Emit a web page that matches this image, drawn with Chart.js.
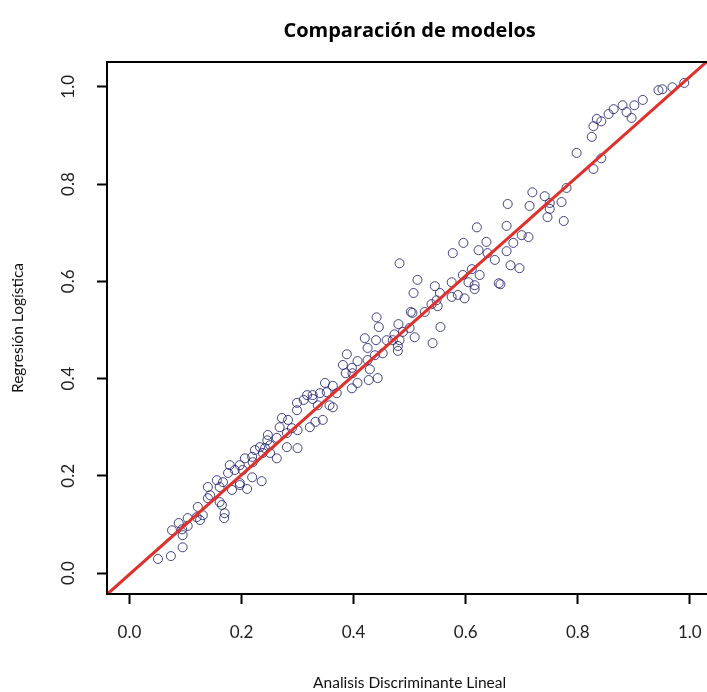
<!DOCTYPE html>
<html>
<head>
<meta charset="utf-8">
<title>Comparación de modelos</title>
<script src="https://cdn.jsdelivr.net/npm/chart.js@4.4.1/dist/chart.umd.min.js"></script>
<style>
  html, body { margin: 0; padding: 0; background: #fff; overflow: hidden; }
  canvas { display: block; }
</style>
</head>
<body>
<canvas id="model-chart" width="720" height="692"></canvas>
<script>
// ── Probabilidades estimadas por cada modelo (una por observación) ──
const ldaProb = [
  0.990, 0.969, 0.951, 0.944, 0.916, 0.901, 0.880, 0.864, 0.855, 0.887, 0.896, 0.842, 0.834, 0.828, 0.825, 0.798, 0.842, 0.828,
  0.780, 0.719, 0.741, 0.750, 0.771, 0.675, 0.714, 0.750, 0.746, 0.775, 0.673, 0.712, 0.700, 0.685, 0.673, 0.680, 0.696, 0.662,
  0.620, 0.596, 0.637, 0.577, 0.623, 0.639, 0.652, 0.482, 0.611, 0.595, 0.625, 0.605, 0.616, 0.616, 0.575, 0.659, 0.514, 0.507,
  0.545, 0.554, 0.575, 0.586, 0.598, 0.548, 0.539, 0.550, 0.502, 0.505, 0.527, 0.480, 0.500, 0.555, 0.473, 0.488, 0.509, 0.470,
  0.482, 0.479, 0.541, 0.479,
  0.441, 0.445, 0.420, 0.440, 0.459, 0.425, 0.438, 0.452, 0.388, 0.407, 0.425, 0.381, 0.397, 0.429, 0.386, 0.398, 0.407, 0.427,
  0.443, 0.397, 0.349, 0.363, 0.352, 0.370, 0.340, 0.317, 0.327, 0.311, 0.327, 0.336, 0.357, 0.363,
  0.299, 0.345, 0.322, 0.332, 0.299, 0.272, 0.283, 0.268, 0.290, 0.300, 0.281, 0.247, 0.263, 0.281, 0.300, 0.246, 0.233, 0.242,
  0.251, 0.224, 0.238, 0.251, 0.263, 0.206, 0.219,
  0.220, 0.179, 0.197, 0.188, 0.202, 0.176, 0.219, 0.236, 0.156, 0.167, 0.197, 0.140, 0.161, 0.183, 0.210, 0.197, 0.144, 0.161,
  0.140, 0.165, 0.122, 0.131, 0.120, 0.170, 0.169, 0.104, 0.126, 0.088, 0.104, 0.076, 0.094, 0.095, 0.095, 0.074, 0.051
];
const rlProb = [
  1.008, 0.999, 0.995, 0.993, 0.973, 0.962, 0.962, 0.954, 0.944, 0.948, 0.936, 0.929, 0.934, 0.919, 0.897, 0.864, 0.853, 0.831,
  0.792, 0.783, 0.775, 0.761, 0.763, 0.759, 0.755, 0.749, 0.732, 0.724, 0.714, 0.691, 0.695, 0.679, 0.662, 0.633, 0.627, 0.594,
  0.711, 0.679, 0.681, 0.658, 0.664, 0.658, 0.644, 0.637, 0.625, 0.613, 0.613, 0.598, 0.592, 0.584, 0.598, 0.596, 0.603, 0.576,
  0.590, 0.576, 0.568, 0.572, 0.565, 0.561, 0.553, 0.549, 0.537, 0.535, 0.537, 0.512, 0.504, 0.506, 0.491, 0.496, 0.485, 0.479,
  0.479, 0.467, 0.473, 0.457,
  0.526, 0.506, 0.483, 0.479, 0.479, 0.463, 0.448, 0.452, 0.450, 0.436, 0.438, 0.428, 0.422, 0.419, 0.411, 0.411, 0.391, 0.397,
  0.401, 0.380, 0.391, 0.385, 0.372, 0.370, 0.370, 0.366, 0.366, 0.356, 0.358, 0.345, 0.345, 0.341,
  0.350, 0.315, 0.300, 0.311, 0.335, 0.319, 0.315, 0.300, 0.298, 0.294, 0.288, 0.284, 0.278, 0.259, 0.257, 0.273, 0.259, 0.257,
  0.263, 0.253, 0.247, 0.247, 0.236, 0.236, 0.239,
  0.228, 0.222, 0.222, 0.212, 0.212, 0.206, 0.197, 0.189, 0.191, 0.187, 0.185, 0.177, 0.177, 0.171, 0.173, 0.181, 0.160, 0.146,
  0.154, 0.140, 0.136, 0.119, 0.115, 0.123, 0.113, 0.113, 0.109, 0.103, 0.097, 0.088, 0.090, 0.078, 0.053, 0.035, 0.029
];

// ── Recta de ajuste (extremos) ──
const fitX = [-0.05, 1.05];
const fitY = [-0.054, 1.072];

// ── Marcas de los ejes ──
const xTickValues = [0.0, 0.2, 0.4, 0.6, 0.8, 1.0];
const yTickValues = [0.0, 0.2, 0.4, 0.6, 0.8, 1.0];

const TEXT_FONT  = 'Lato, "Open Sans", "DejaVu Sans", sans-serif';
const TITLE_FONT = '"Open Sans", Lato, "DejaVu Sans", sans-serif';

// ── Caja alrededor del área de dibujo ──
const frameBox = {
  id: 'frameBox',
  afterDraw(chart) {
    const a = chart.chartArea;
    const ctx = chart.ctx;
    ctx.save();
    ctx.strokeStyle = '#000';
    ctx.lineWidth = 2;
    ctx.strokeRect(a.left, a.top, a.right - a.left, a.bottom - a.top);
    ctx.restore();
  }
};

const points = ldaProb.map(function(x, i) { return { x: x, y: rlProb[i] }; });
const fitLine = fitX.map(function(x, i) { return { x: x, y: fitY[i] }; });

new Chart(document.getElementById('model-chart').getContext('2d'), {
  type: 'scatter',
  data: {
    datasets: [
      {
        type: 'line',
        data: fitLine,
        borderColor: '#e0302b',
        borderWidth: 3,
        pointRadius: 0,
        fill: false,
      },
      {
        data: points,
        pointStyle: 'circle',
        pointRadius: 4.5,
        pointBorderWidth: 1,
        pointBorderColor: 'rgba(35,35,115,0.85)',
        pointBackgroundColor: 'rgba(0,0,0,0)',
      }
    ]
  },
  options: {
    responsive: false,
    animation: false,
    devicePixelRatio: 1,
    layout: { padding: { top: 0, left: 0, right: 7, bottom: 0 } },
    plugins: {
      legend: { display: false },
      tooltip: { enabled: false },
      title: {
        display: true,
        fullSize: false,
        text: 'Comparación de modelos',
        color: '#000',
        font: { family: TITLE_FONT, size: 20, weight: 'bold', lineHeight: 1.2 },
        padding: { top: 19, bottom: 19 },
      },
    },
    scales: {
      x: {
        type: 'linear',
        position: 'bottom',
        min: -0.04,
        max: 1.04,
        afterFit: function(scale) { scale.height = 98; },
        afterBuildTicks: function(scale) {
          scale.ticks = xTickValues.map(function(v) { return { value: v }; });
        },
        grid: { drawOnChartArea: false, drawTicks: true, tickLength: 10, tickWidth: 2, tickColor: '#000' },
        border: { display: false },
        ticks: {
          autoSkip: false,
          maxRotation: 0,
          padding: 18,
          color: '#222',
          font: { family: TEXT_FONT, size: 17 },
          callback: function(v) { return Number(v).toFixed(1); },
        },
        title: {
          display: true,
          text: 'Analisis Discriminante Lineal',
          color: '#111',
          font: { family: TEXT_FONT, size: 15.5 },
          padding: { top: 0, bottom: 0 },
        },
      },
      y: {
        type: 'linear',
        position: 'left',
        min: -0.043,
        max: 1.051,
        afterFit: function(scale) { scale.width = 107; },
        afterBuildTicks: function(scale) {
          scale.ticks = yTickValues.map(function(v) { return { value: v }; });
        },
        grid: { drawOnChartArea: false, drawTicks: true, tickLength: 10, tickWidth: 2, tickColor: '#000' },
        border: { display: false },
        ticks: {
          autoSkip: false,
          minRotation: 90,
          maxRotation: 90,
          crossAlign: 'center',
          padding: 17,
          color: '#222',
          font: { family: TEXT_FONT, size: 17 },
          callback: function(v) { return Number(v).toFixed(1); },
        },
        title: {
          display: true,
          text: 'Regresión Logística',
          color: '#111',
          font: { family: TEXT_FONT, size: 15.5 },
          padding: { top: 9, bottom: 0 },
        },
      },
    },
  },
  plugins: [frameBox],
});
</script>
</body>
</html>
